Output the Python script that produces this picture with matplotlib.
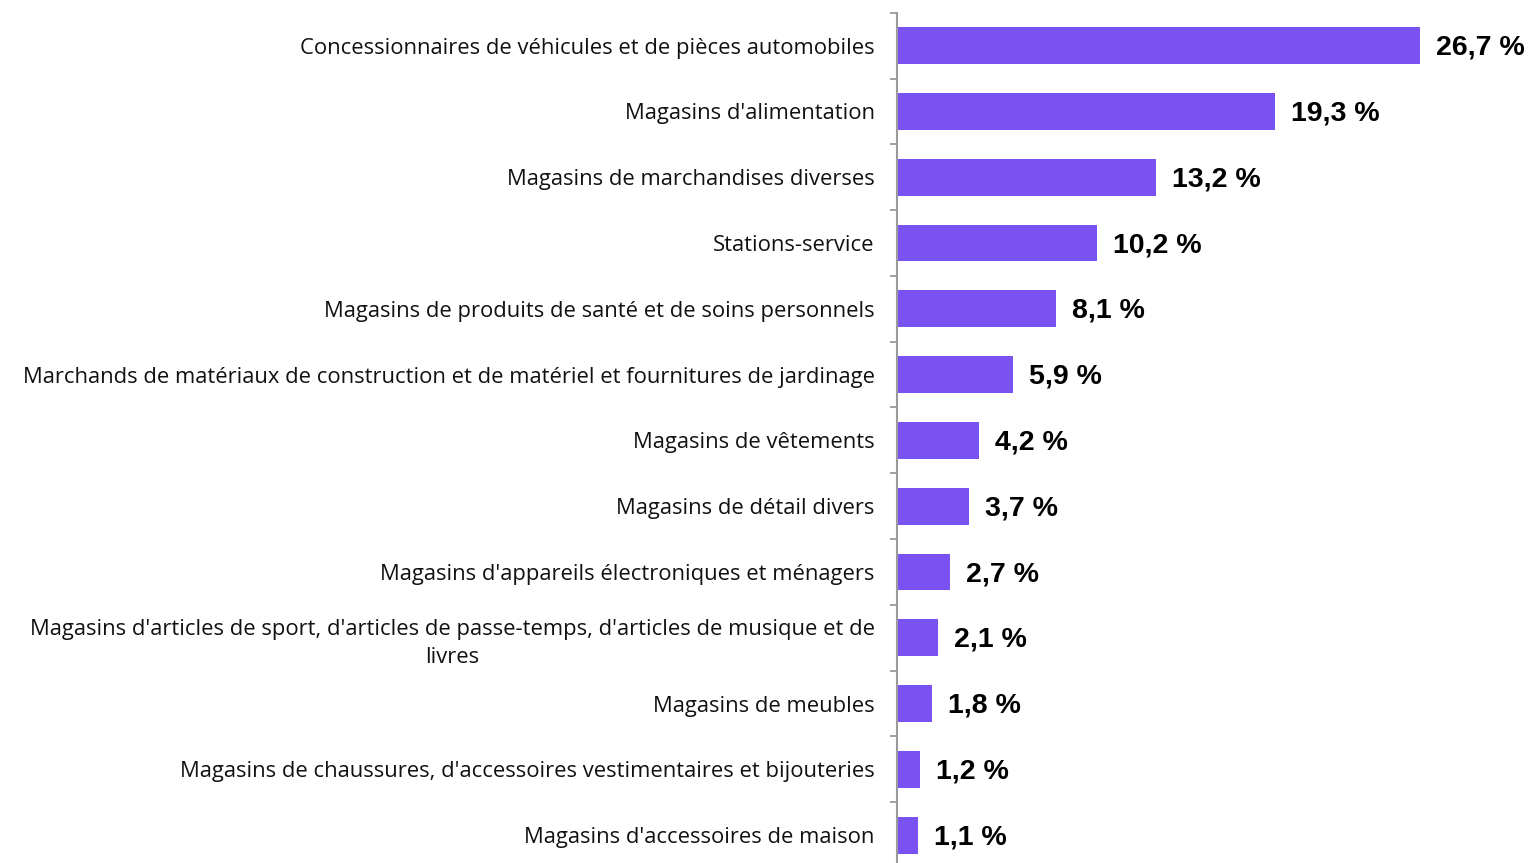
import matplotlib
matplotlib.use("Agg")
import matplotlib.pyplot as plt
import numpy as np

# ── Data ──────────────────────────────────────────────────────────────────────
CATEGORIES = [
    "Concessionnaires de véhicules et de pièces automobiles",
    "Magasins d'alimentation",
    "Magasins de marchandises diverses",
    "Stations-service",
    "Magasins de produits de santé et de soins personnels",
    "Marchands de matériaux de construction et de matériel et fournitures de jardinage",
    "Magasins de vêtements",
    "Magasins de détail divers",
    "Magasins d'appareils électroniques et ménagers",
    "Magasins d'articles de sport, d'articles de passe-temps, d'articles de musique et de\nlivres",
    "Magasins de meubles",
    "Magasins de chaussures, d'accessoires vestimentaires et bijouteries",
    "Magasins d'accessoires de maison",
]
SHARES = [26.7, 19.3, 13.2, 10.2, 8.1, 5.9, 4.2, 3.7, 2.7, 2.1, 1.8, 1.2, 1.1]

BAR_COLOR = "#7B52F2"
AXIS_COLOR = "#9a9a9a"

plt.rcParams["font.family"] = ["Open Sans", "DejaVu Sans"]

fig = plt.figure(figsize=(15.34, 8.63), dpi=100, facecolor="white")
ax = fig.add_axes([0.5847, -0.0058, 0.4153, 0.991])

y = np.arange(len(CATEGORIES))
ax.barh(y, SHARES, height=0.56, color=BAR_COLOR, zorder=2)

for yi, v in zip(y, SHARES):
    ax.annotate(f"{v:.1f} %".replace(".", ","), (v, yi),
                xytext=(11.5, -1.5), textcoords="offset points",
                ha="left", va="center", fontsize=20.5, fontweight="bold",
                family=["Liberation Sans", "DejaVu Sans"], color="black")

ax.set_ylim(len(CATEGORIES) - 0.5, -0.5)
ax.set_xlim(0, 32.5)

ax.set_yticks(y)
ax.set_yticklabels(CATEGORIES, fontsize=15.8, color="#111111",
                   multialignment="center", linespacing=1.45)
ax.set_yticks(np.arange(-0.5, len(CATEGORIES), 1), minor=True)
ax.tick_params(axis="y", which="major", length=0, pad=16)
ax.tick_params(axis="y", which="minor", length=5, width=1.3, color=AXIS_COLOR)

ax.set_xticks([])
for side in ("top", "right", "bottom"):
    ax.spines[side].set_visible(False)
ax.spines["left"].set_color(AXIS_COLOR)
ax.spines["left"].set_linewidth(1.5)

fig.savefig("out.png", dpi=100, facecolor="white")
